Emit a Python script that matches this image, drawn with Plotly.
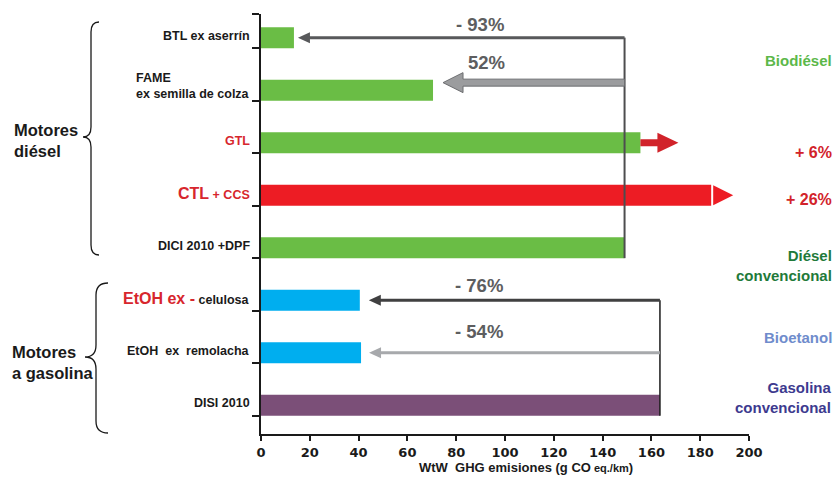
import plotly.graph_objects as go

# ---- data -------------------------------------------------------------
categories = [
    "BTL ex aserrín",
    "FAME ex semilla de colza",
    "GTL",
    "CTL + CCS",
    "DICI 2010 +DPF",
    "EtOH ex - celulosa",
    "EtOH ex remolacha",
    "DISI 2010",
]
# WtW GHG emissions, g CO2 eq./km
emissions = [13.5, 70.5, 155.5, 184.5, 149, 40.5, 41, 163.5]

# rich-text versions of the category labels
category_labels = [
    "BTL ex aserrín",
    "FAME<br>ex semilla de colza",
    "<span style='color:#d7262d'>GTL</span>",
    "<span style='color:#d7262d'><span style='font-size:16px'>CTL</span> + CCS</span>",
    "DICI 2010 +DPF",
    "<span style='color:#d7262d;font-size:16px'>EtOH ex -</span> celulosa",
    "EtOH  ex  remolacha",
    "DISI 2010",
]
bar_colors = ["#6abd45", "#6abd45", "#6abd45", "#ed1c24", "#6abd45",
              "#00aeef", "#00aeef", "#7b4f78"]

x_ticks = list(range(0, 201, 20))
change_labels = ["- 93%", "52%", "- 76%", "- 54%"]
group_labels = ["Motores<br>diésel", "Motores<br>a gasolina"]

DIESEL_REF = 4     # index of the diesel reference bar
GASOLINE_REF = 7   # index of the gasoline reference bar

# ---- geometry ---------------------------------------------------------
W, H = 836, 492
ML, MR, MT, MB = 261, 87, 14, 58
PW, PH = W - ML - MR, H - MT - MB
X_RANGE = [0, 200]
Y_TOP, Y_BOT = -0.45, 7.55
XPX = PW / (X_RANGE[1] - X_RANGE[0])     # pixels per x unit
YPX = PH / (Y_BOT - Y_TOP)               # pixels per category
BAR_W = 0.4

LABEL_FONT = "Liberation Sans, Arial, sans-serif"


def px_x(p):
    return (p - ML) / PW


def px_y(p):
    return 1 - (p - MT) / PH


def harrow(x0, x1, y, shaft_px, head_len_px, head_h_px):
    d = 1 if x1 > x0 else -1
    xb = x1 - d * head_len_px / XPX
    sw = shaft_px / 2 / YPX
    hh = head_h_px / 2 / YPX
    return (f"M {x0},{y - sw} L {xb},{y - sw} L {xb},{y - hh} L {x1},{y} "
            f"L {xb},{y + hh} L {xb},{y + sw} L {x0},{y + sw} Z")


def triangle(x0, x1, y, head_h_px):
    hh = head_h_px / 2 / YPX
    return f"M {x0},{y - hh} L {x1},{y} L {x0},{y + hh} Z"


def brace(x_out, x_mid, x_tip, y_top, y_tip, y_bot, r):
    pts = lambda x, y: f"{px_x(x)},{px_y(y)}"
    return (f"M {pts(x_out, y_top)} Q {pts(x_mid, y_top)} {pts(x_mid, y_top + r)} "
            f"L {pts(x_mid, y_tip - r)} Q {pts(x_mid, y_tip)} {pts(x_tip, y_tip)} "
            f"Q {pts(x_mid, y_tip)} {pts(x_mid, y_tip + r)} "
            f"L {pts(x_mid, y_bot - r)} Q {pts(x_mid, y_bot)} {pts(x_out, y_bot)}")


idx = list(range(len(categories)))

fig = go.Figure(go.Bar(
    x=emissions, y=idx, orientation="h", width=BAR_W,
    marker=dict(color=bar_colors, line=dict(width=0)),
    hoverinfo="skip",
))

shapes = []
annotations = []

d_ref = emissions[DIESEL_REF]
g_ref = emissions[GASOLINE_REF]

# reference verticals
shapes.append(dict(type="line", xref="x", yref="y", x0=d_ref, x1=d_ref,
                   y0=0, y1=DIESEL_REF + BAR_W / 2,
                   line=dict(color="#4d4d4f", width=2)))
shapes.append(dict(type="line", xref="x", yref="y", x0=g_ref, x1=g_ref,
                   y0=5, y1=GASOLINE_REF + BAR_W / 2,
                   line=dict(color="#1a1a1a", width=1.5)))

# BTL reduction arrow
shapes.append(dict(type="path", xref="x", yref="y",
                   path=harrow(d_ref, emissions[0] + 4 / XPX, 0, 3, 12, 11),
                   fillcolor="#58595b", line=dict(width=0)))
# FAME reduction arrow (light, outlined)
shapes.append(dict(type="path", xref="x", yref="y",
                   path=harrow(d_ref, emissions[1] + 10 / XPX, 1 - 7.5 / YPX, 7, 20, 20),
                   fillcolor="#9b9c9e", line=dict(color="#6d6e71", width=1)))
# GTL increase arrow
shapes.append(dict(type="path", xref="x", yref="y",
                   path=harrow(emissions[2], emissions[2] + 38 / XPX, 2, 7, 21, 20),
                   fillcolor="#d1232a", line=dict(width=0)))
# CTL + CCS increase arrow head
shapes.append(dict(type="path", xref="x", yref="y",
                   path=triangle(emissions[3] + 2 / XPX, emissions[3] + 22 / XPX, 3, 20),
                   fillcolor="#ed1c24", line=dict(width=0)))
# ethanol reduction arrows
shapes.append(dict(type="path", xref="x", yref="y",
                   path=harrow(g_ref, emissions[5] + 9 / XPX, 5, 3, 12, 11),
                   fillcolor="#404041", line=dict(width=0)))
shapes.append(dict(type="path", xref="x", yref="y",
                   path=harrow(g_ref, emissions[6] + 8 / XPX, 6, 3, 12, 11),
                   fillcolor="#a7a9ac", line=dict(width=0)))

# curly braces for the engine groups
shapes.append(dict(type="path", xref="paper", yref="paper",
                   path=brace(99, 91, 83, 22, 137, 255, 10),
                   line=dict(color="#1a1a1a", width=1.3)))
shapes.append(dict(type="path", xref="paper", yref="paper",
                   path=brace(108, 96, 85, 283, 357, 433, 12),
                   line=dict(color="#1a1a1a", width=1.3)))

# category labels
for i, lab in enumerate(category_labels):
    annotations.append(dict(
        xref="paper", yref="y", x=0, y=i, xshift=-9, yshift=2 if i != 1 else 4,
        xanchor="right", yanchor="middle", align="left", showarrow=False,
        text=f"<b>{lab}</b>",
        font=dict(family=LABEL_FONT, size=12.5, color="#1a1a1a"),
    ))

# group labels
for text, x_px, y_px in zip(group_labels, [12, 10], [140, 362]):
    annotations.append(dict(
        xref="paper", yref="paper", x=px_x(x_px), y=px_y(y_px),
        xanchor="left", yanchor="middle", align="left", showarrow=False,
        text=f"<b>{text}</b>",
        font=dict(family=LABEL_FONT, size=16.5, color="#1a1a1a"),
    ))

# percentage change labels over the arrows
for text, yi, yshift, xc in zip(change_labels, [0, 1, 5, 6], [13, 28, 15, 21],
                                [89.8, 92.6, 89.3, 89.3]):
    annotations.append(dict(
        xref="x", yref="y", x=xc, y=yi, yshift=yshift,
        xanchor="center", yanchor="middle", showarrow=False,
        text=f"<b>{text}</b>",
        font=dict(family=LABEL_FONT, size=18.5, color="#5d5e60"),
    ))

# fuel family / change labels on the right
right_labels = [
    ("Biodiésel", 60, "#5cb84a", 15),
    ("+ 6%", 153, "#d2232a", 16),
    ("+ 26%", 199, "#d2232a", 16),
    ("Diésel<br>convencional", 265, "#1f7a3a", 15),
    ("Bioetanol", 337, "#6f8ccc", 15),
    ("Gasolina<br>convencional", 397, "#3d3a8f", 15),
]
for text, y_px, color, size in right_labels:
    annotations.append(dict(
        xref="paper", yref="paper", x=px_x(834), y=px_y(y_px),
        xanchor="right", yanchor="middle", align="right", showarrow=False,
        text=f"<b>{text}</b>",
        font=dict(family=LABEL_FONT, size=size, color=color),
    ))

# x-axis title
annotations.append(dict(
    xref="paper", yref="paper", x=px_x(526), y=px_y(467),
    xanchor="center", yanchor="middle", showarrow=False,
    text="<b>WtW  GHG emisiones (g CO<span style='font-size:11px'> eq./km</span>)</b>",
    font=dict(family=LABEL_FONT, size=13, color="#1a1a1a"),
))

fig.update_layout(
    width=W, height=H,
    margin=dict(l=ML, r=MR, t=MT, b=MB, pad=0),
    paper_bgcolor="white", plot_bgcolor="white",
    showlegend=False,
    shapes=shapes, annotations=annotations,
    xaxis=dict(
        range=X_RANGE, tickvals=x_ticks, ticktext=[f"<b>{v}</b>" for v in x_ticks],
        showline=True, linecolor="#1a1a1a", linewidth=2,
        ticks="outside", ticklen=5, tickwidth=2, tickcolor="#1a1a1a",
        showgrid=False, zeroline=False,
        tickfont=dict(family="DejaVu Sans, sans-serif", size=13, color="#1a1a1a"),
    ),
    yaxis=dict(
        range=[Y_BOT, Y_TOP],
        tickvals=[Y_TOP + 0.001] + [i + BAR_W / 2 for i in idx],
        showticklabels=False,
        showline=True, linecolor="#1a1a1a", linewidth=2,
        ticks="outside", ticklen=7, tickwidth=2, tickcolor="#1a1a1a",
        showgrid=False, zeroline=False,
    ),
)

fig.write_html("out.html")
